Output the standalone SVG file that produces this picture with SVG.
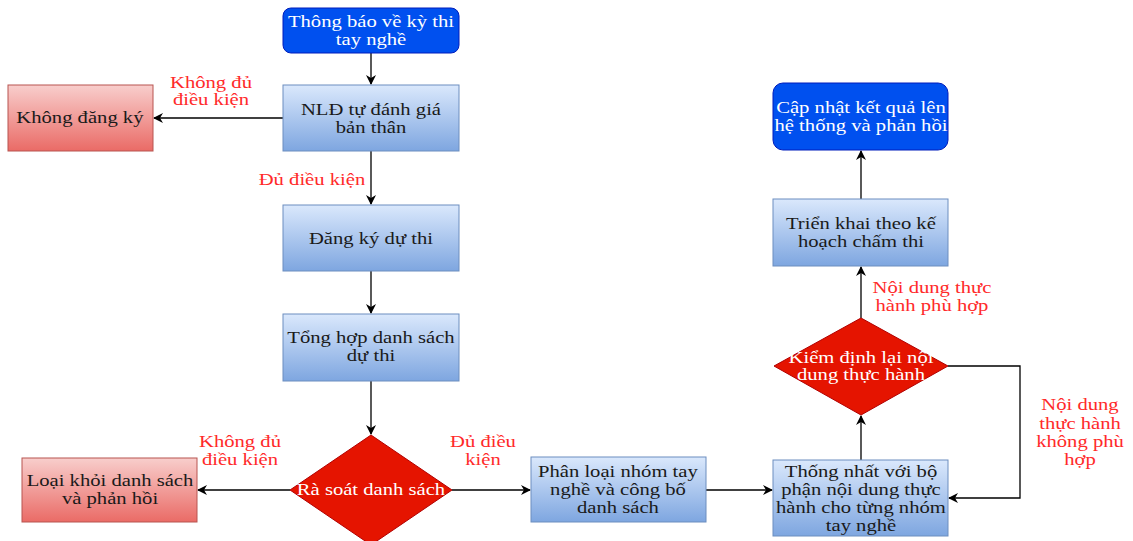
<svg xmlns="http://www.w3.org/2000/svg" width="1133" height="541" viewBox="0 0 1133 541">
<style>
.t{font-family:"Liberation Serif","Times New Roman",serif;font-size:16px;text-anchor:middle;dominant-baseline:central;transform-box:fill-box;transform-origin:center;transform:scaleX(1.29)}
.dk{fill:#1a1a1a}
.wh{fill:#ffffff}
.rd{fill:#ff2a2a}
.bx{fill:url(#gb);stroke:#6c8ebf;stroke-width:1}
.rx{fill:url(#gr);stroke:#b85450;stroke-width:1}
.bl{fill:#0050ef;stroke:#001dbc;stroke-width:1}
.dm{fill:#e51400;stroke:#b20000;stroke-width:1}
.ln{fill:none;stroke:#000000;stroke-width:1.3;marker-end:url(#ar)}
</style>
<defs>
<linearGradient id="gb" x1="0" y1="0" x2="0" y2="1"><stop offset="0" stop-color="#dae8fc"/><stop offset="1" stop-color="#7ea6e0"/></linearGradient>
<linearGradient id="gr" x1="0" y1="0" x2="0" y2="1"><stop offset="0" stop-color="#f8cecc"/><stop offset="1" stop-color="#ea6b66"/></linearGradient>
<marker id="ar" viewBox="0 0 10 10" refX="9" refY="5" markerWidth="10" markerHeight="10" markerUnits="userSpaceOnUse" orient="auto"><path d="M0,0 L10,5 L0,10 L3,5 Z" fill="#000"/></marker>
</defs>
<rect width="1133" height="541" fill="#ffffff"/>
<g id="connectors">
<path class="ln" d="M371,53 L371,84"/>
<path class="ln" d="M283,118 L154,118"/>
<path class="ln" d="M371,151 L371,204"/>
<path class="ln" d="M371,271 L371,313"/>
<path class="ln" d="M371,381 L371,434"/>
<path class="ln" d="M290,490 L198,490"/>
<path class="ln" d="M452,490 L530,490"/>
<path class="ln" d="M706,490 L772,490"/>
<path class="ln" d="M861,460 L861,416"/>
<path class="ln" d="M948,366 L1020,366 L1020,498 L949,498"/>
<path class="ln" d="M861,318 L861,267"/>
<path class="ln" d="M861,199 L861,151"/>
<text class="t rd" x="211" y="83">Không đủ</text>
<text class="t rd" x="211" y="100">điều kiện</text>
<text class="t rd" x="312" y="180">Đủ điều kiện</text>
<text class="t rd" x="240" y="442">Không đủ</text>
<text class="t rd" x="240" y="460">điều kiện</text>
<text class="t rd" x="483" y="442">Đủ điều</text>
<text class="t rd" x="483" y="460">kiện</text>
<text class="t rd" x="932" y="288">Nội dung thực</text>
<text class="t rd" x="932" y="306">hành phù hợp</text>
<text class="t rd" x="1080" y="405">Nội dung</text>
<text class="t rd" x="1080" y="424">thực hành</text>
<text class="t rd" x="1080" y="442">không phù</text>
<text class="t rd" x="1080" y="460">hợp</text>
</g>
<g id="n-thongbao">
<rect class="bl" x="283" y="8" width="176" height="45" rx="8"/>
<text class="t wh" x="371" y="22">Thông báo về kỳ thi</text>
<text class="t wh" x="371" y="40">tay nghề</text>
</g>
<g id="n-nld">
<rect class="bx" x="283" y="85" width="176" height="66"/>
<text class="t dk" x="371" y="110">NLĐ tự đánh giá</text>
<text class="t dk" x="371" y="128">bản thân</text>
</g>
<g id="n-khongdangky">
<rect class="rx" x="8" y="85" width="145" height="66"/>
<text class="t dk" x="80" y="118">Không đăng ký</text>
</g>
<g id="n-dangky">
<rect class="bx" x="283" y="205" width="176" height="66"/>
<text class="t dk" x="371" y="239">Đăng ký dự thi</text>
</g>
<g id="n-tonghop">
<rect class="bx" x="283" y="314" width="176" height="67"/>
<text class="t dk" x="371" y="338">Tổng hợp danh sách</text>
<text class="t dk" x="371" y="356">dự thi</text>
</g>
<g id="n-rasoat">
<path class="dm" d="M371,435 L452,490 L371,545 L290,490 Z"/>
<text class="t wh" x="371" y="490">Rà soát danh sách</text>
</g>
<g id="n-loaikhoi">
<rect class="rx" x="22" y="458" width="175" height="64"/>
<text class="t dk" x="110" y="481">Loại khỏi danh sách</text>
<text class="t dk" x="110" y="499">và phản hồi</text>
</g>
<g id="n-phanloai">
<rect class="bx" x="531" y="457" width="175" height="65"/>
<text class="t dk" x="618" y="472">Phân loại nhóm tay</text>
<text class="t dk" x="618" y="490">nghề và công bố</text>
<text class="t dk" x="618" y="508">danh sách</text>
</g>
<g id="n-thongnhat">
<rect class="bx" x="773" y="460" width="175" height="76"/>
<text class="t dk" x="861" y="472">Thống nhất với bộ</text>
<text class="t dk" x="861" y="490">phận nội dung thực</text>
<text class="t dk" x="861" y="508">hành cho từng nhóm</text>
<text class="t dk" x="861" y="526">tay nghề</text>
</g>
<g id="n-kiemdinh">
<path class="dm" d="M861,318 L948,366 L861,415 L774,366 Z"/>
<text class="t wh" x="861" y="358">Kiểm định lại nội</text>
<text class="t wh" x="861" y="375">dung thực hành</text>
</g>
<g id="n-trienkhai">
<rect class="bx" x="773" y="199" width="175" height="67"/>
<text class="t dk" x="861" y="224">Triển khai theo kế</text>
<text class="t dk" x="861" y="242">hoạch chấm thi</text>
</g>
<g id="n-capnhat">
<rect class="bl" x="773" y="83" width="175" height="67" rx="10"/>
<text class="t wh" x="861" y="108">Cập nhật kết quả lên</text>
<text class="t wh" x="861" y="126">hệ thống và phản hồi</text>
</g>
</svg>
